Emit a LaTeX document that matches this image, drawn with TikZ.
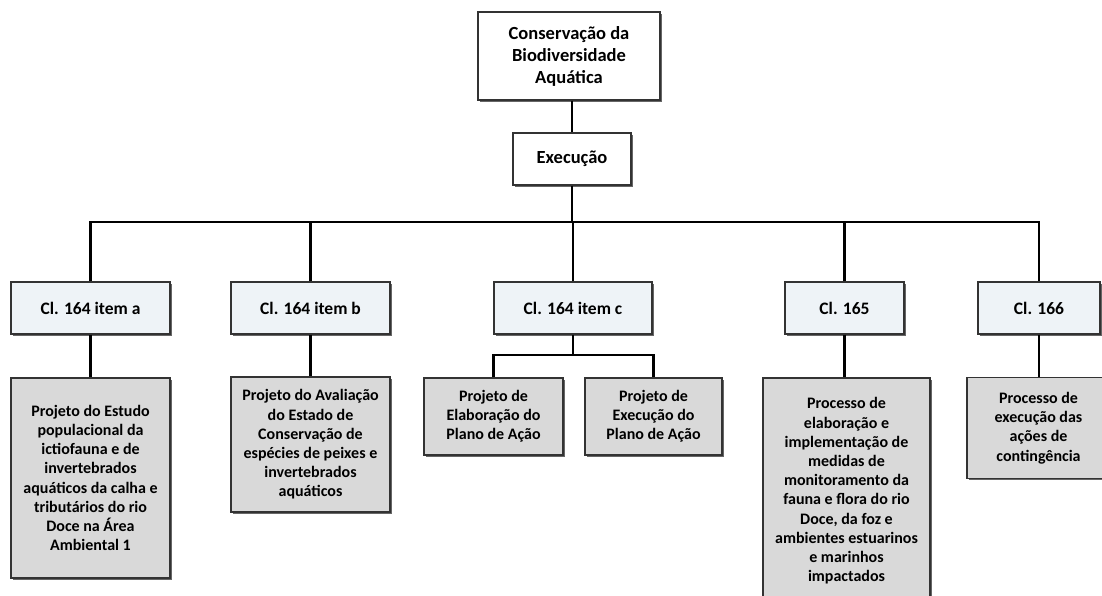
\documentclass[tikz,border=0pt]{standalone}
\usepackage{fontspec}
\setmainfont{Carlito}
\usetikzlibrary{shadows}
\definecolor{clfill}{HTML}{EEF3F7}
\definecolor{dfill}{HTML}{D9D9D9}
\definecolor{edgec}{HTML}{333333}
\tikzset{
 box/.style={draw=edgec, line width=1.1pt, inner sep=0pt, align=center,
   font=\bfseries\fontsize{16}{19.2}\selectfont,
   drop shadow={shadow xshift=1.8pt,shadow yshift=-1.8pt,fill=black!60,opacity=1}},
 topbox/.style={box, fill=white, font=\bfseries\fontsize{18.5}{22}\selectfont},
 clbox/.style={box, fill=clfill, font=\bfseries\fontsize{17.5}{20}\selectfont},
 detbox/.style={box, fill=dfill},
 link/.style={draw=black, line width=2.2pt},
}
\begin{document}
\begin{tikzpicture}[x=1pt,y=-1pt]
\fill[white] (0,0) rectangle (1102,596);
\useasboundingbox (0,0) rectangle (1102,596);
\begin{scope}
\clip (0,0) rectangle (1102,596);
% top
\node[topbox, minimum width=182pt, minimum height=88pt] (top) at (569,56)
  {Conservação da\\Biodiversidade\\Aquática};
\node[topbox, minimum width=118pt, minimum height=52pt] (exe) at (572,159) {Execução};
\coordinate (bus) at (572,222);
% clause boxes
\node[clbox, minimum width=159pt, minimum height=52pt] (c1) at (90.5,308) {Cl. 164 item a};
\node[clbox, minimum width=159pt, minimum height=52pt] (c2) at (310.5,308) {Cl. 164 item b};
\node[clbox, minimum width=158pt, minimum height=52pt] (c3) at (573,308) {Cl. 164 item c};
\node[clbox, minimum width=119pt, minimum height=52pt] (c4) at (844.5,308) {Cl. 165};
\node[clbox, minimum width=122pt, minimum height=52pt] (c5) at (1039,308) {Cl. 166};
% detail boxes
\node[detbox, minimum width=159pt, minimum height=200pt] (d1) at (90.5,478)
  {Projeto do Estudo\\populacional da\\ictiofauna e de\\invertebrados\\aquáticos da calha  e\\tributários do rio\\Doce na Área\\Ambiental 1};
\node[detbox, minimum width=159pt, minimum height=135pt] (d2) at (310.5,444.5)
  {Projeto do Avaliação\\do Estado de\\Conservação de\\espécies de peixes e\\invertebrados\\aquáticos};
\node[detbox, minimum width=139pt, minimum height=77pt] (d3a) at (493.5,416.5)
  {Projeto de\\Elaboração do\\Plano de Ação};
\node[detbox, minimum width=137pt, minimum height=77pt] (d3b) at (653.5,416.5)
  {Projeto de\\Execução do\\Plano de Ação};
\coordinate (sub) at (573,355);
\node[detbox, minimum width=167pt, minimum height=226pt] (d4) at (846.5,491)
  {Processo de\\elaboração e\\implementação de\\medidas de\\monitoramento da\\fauna e flora do rio\\Doce, da foz e\\ambientes estuarinos\\e marinhos\\impactados};
\node[detbox, minimum width=143pt, minimum height=101pt] (d5) at (1038.5,428)
  {Processo de\\execução das\\ações de\\contingência};
% connectors
\draw[link] (top.south -| exe.north) -- (exe.north);
\draw[link] (exe.south) -- (bus);
\draw[link] (c1.north) |- (bus) -| (c5.north);
\draw[link] (c2.north) -- (c2.north |- bus);
\draw[link] (c3.north) -- (c3.north |- bus);
\draw[link] (c4.north) -- (c4.north |- bus);
\draw[link] (c1.south) -- (d1.north);
\draw[link] (c2.south) -- (d2.north);
\draw[link] (c3.south) -- (sub);
\draw[link] (d3a.north) |- (sub) -| (d3b.north);
\draw[link] (c4.south) -- (c4.south |- d4.north);
\draw[link] (c5.south) -- (c5.south |- d5.north);
\end{scope}
\end{tikzpicture}
\end{document}
